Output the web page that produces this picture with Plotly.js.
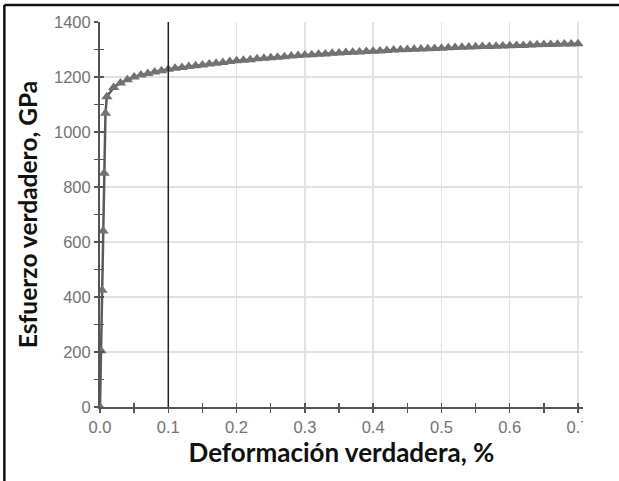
<!DOCTYPE html>
<html>
<head>
<meta charset="utf-8">
<script src="https://cdn.plot.ly/plotly-3.0.1.min.js"></script>
<style>
html,body{margin:0;padding:0;background:#fff;}
#chart{width:619px;height:481px;}
</style>
</head>
<body>
<div id="chart"></div>
<script>
// True strain (%)
var strain = [0, 0.0015, 0.003, 0.0045, 0.006, 0.008,
  0.01, 0.02, 0.03, 0.04, 0.05, 0.06, 0.07, 0.08, 0.09, 0.10,
  0.11, 0.12, 0.13, 0.14, 0.15, 0.16, 0.17, 0.18, 0.19, 0.20,
  0.21, 0.22, 0.23, 0.24, 0.25, 0.26, 0.27, 0.28, 0.29, 0.30,
  0.31, 0.32, 0.33, 0.34, 0.35, 0.36, 0.37, 0.38, 0.39, 0.40,
  0.41, 0.42, 0.43, 0.44, 0.45, 0.46, 0.47, 0.48, 0.49, 0.50,
  0.51, 0.52, 0.53, 0.54, 0.55, 0.56, 0.57, 0.58, 0.59, 0.60,
  0.61, 0.62, 0.63, 0.64, 0.65, 0.66, 0.67, 0.68, 0.69, 0.70];
// True stress (GPa)
var stress = [0, 205, 425, 640, 850, 1068,
  1128, 1162, 1178, 1190, 1200, 1207, 1213, 1218, 1223, 1228,
  1232, 1235, 1238, 1241, 1244, 1247, 1250, 1253, 1256, 1259,
  1261, 1263, 1266, 1268, 1270, 1272, 1274, 1276, 1278, 1280,
  1281, 1283, 1284, 1286, 1287, 1289, 1290, 1291, 1293, 1294,
  1295, 1296, 1298, 1299, 1300, 1301, 1302, 1303, 1304, 1305,
  1306, 1307, 1308, 1309, 1310, 1311, 1311, 1312, 1313, 1314,
  1315, 1315, 1316, 1317, 1318, 1318, 1319, 1320, 1320, 1321];
var xTickVals = [0, 0.1, 0.2, 0.3, 0.4, 0.5, 0.6, 0.7];
var xTickText = ["0.0", "0.1", "0.2", "0.3", "0.4", "0.5", "0.6", "0.7"];
var yTickVals = [0, 200, 400, 600, 800, 1000, 1200, 1400];
var markerLine = 0.1;
var xTitle = "Deformación verdadera, %";
var yTitle = "Esfuerzo verdadero, GPa";

var traces = [
  {
    x: strain, y: stress, type: 'scatter', mode: 'lines+markers',
    line: {color: '#5a5a5a', width: 2.5},
    marker: {symbol: 'triangle-up', size: 10, color: '#727272'},
    hoverinfo: 'skip', showlegend: false
  },
  {
    x: [0], y: [0], xaxis: 'x2', yaxis: 'y2', type: 'scatter', mode: 'markers',
    marker: {opacity: 0}, hoverinfo: 'skip', showlegend: false
  }
];

var tickFont = {family: '"Liberation Sans", Arial, sans-serif', size: 16.5, color: '#737373'};
var xTitleFont = {family: 'Lato, "Open Sans", sans-serif', size: 26, color: '#111111', weight: 700};
var yTitleFont = {family: 'Lato, "Open Sans", sans-serif', size: 24.5, color: '#111111', weight: 700};
var xRange = [0, 0.7073];
var yRange = [0, 1400];

var layout = {
  width: 619, height: 481,
  margin: {l: 100, r: 36, t: 22, b: 74},
  paper_bgcolor: '#ffffff', plot_bgcolor: '#ffffff',
  showlegend: false,
  xaxis: {
    range: xRange, tickmode: 'array', tickvals: xTickVals, ticktext: xTickText,
    ticks: 'outside', ticklen: 4, tickwidth: 1.5, tickcolor: '#555555',
    minor: {dtick: 0.05, tick0: 0, ticks: 'outside', ticklen: 4, tickwidth: 1.5, tickcolor: '#555555', showgrid: false},
    showline: true, linecolor: '#555555', linewidth: 2,
    showgrid: true, gridcolor: '#e2e2e2', gridwidth: 1.5, zeroline: false,
    tickfont: tickFont,
    title: {text: xTitle, font: xTitleFont, standoff: 6}
  },
  xaxis2: {
    range: xRange, overlaying: 'x', anchor: 'y', side: 'bottom',
    dtick: 0.05, tick0: 0, ticks: 'inside', ticklen: 4, tickwidth: 1.5, tickcolor: '#555555',
    showticklabels: false, showgrid: false, zeroline: false, showline: false
  },
  yaxis: {
    range: yRange, tickmode: 'array', tickvals: yTickVals,
    ticks: 'outside', ticklen: 4, tickwidth: 1.5, tickcolor: '#555555',
    minor: {dtick: 100, tick0: 0, ticks: 'outside', ticklen: 4, tickwidth: 1.5, tickcolor: '#555555', showgrid: false},
    showline: true, linecolor: '#555555', linewidth: 2,
    showgrid: true, gridcolor: '#e2e2e2', gridwidth: 1.5, zeroline: false,
    tickfont: tickFont,
    title: {text: yTitle, font: yTitleFont, standoff: 9}
  },
  yaxis2: {
    range: yRange, overlaying: 'y', anchor: 'x', side: 'left',
    dtick: 100, tick0: 0, ticks: 'inside', ticklen: 4, tickwidth: 1.5, tickcolor: '#555555',
    showticklabels: false, showgrid: false, zeroline: false, showline: false
  },
  shapes: [
    {type: 'line', xref: 'x', yref: 'y', x0: markerLine, x1: markerLine, y0: yRange[0], y1: yRange[1],
     line: {color: '#222222', width: 1.5}},
    // clip the last tick label like the reference crop
    {type: 'rect', xref: 'paper', yref: 'paper', x0: 1.0, x1: 1.2, y0: -0.2, y1: -0.012,
     fillcolor: '#ffffff', line: {width: 0}, layer: 'above'},
    // outer frame (top and left edges)
    {type: 'line', xref: 'paper', yref: 'paper', x0: -0.198, x1: 1.08, y0: 1.044, y1: 1.044,
     line: {color: '#111111', width: 2.5}},
    {type: 'line', xref: 'paper', yref: 'paper', x0: -0.198, x1: -0.198, y0: 1.044, y1: -0.2,
     line: {color: '#111111', width: 2.5}}
  ]
};

Plotly.newPlot('chart', traces, layout, {displayModeBar: false, staticPlot: true});
</script>
</body>
</html>
